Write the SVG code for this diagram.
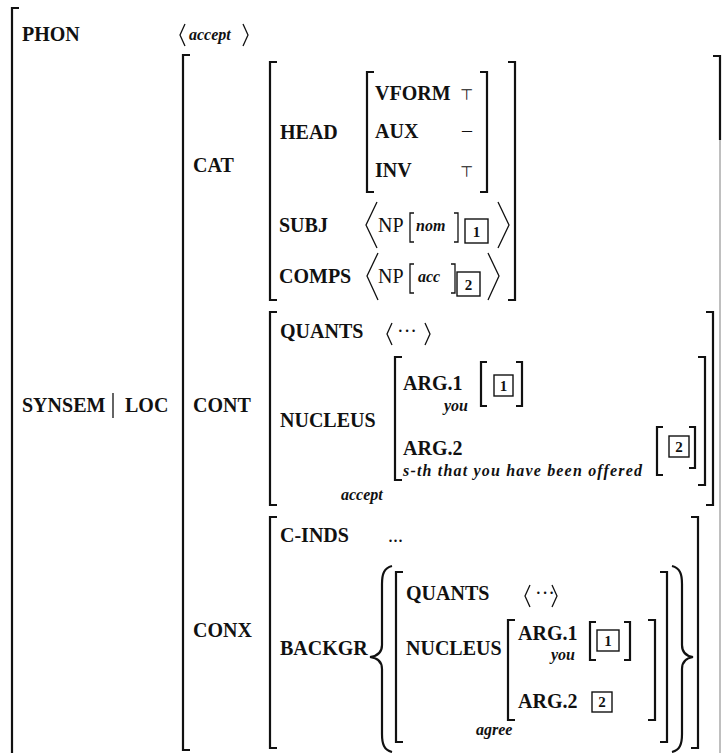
<svg xmlns="http://www.w3.org/2000/svg" width="723" height="753" viewBox="0 0 723 753">
<style>
.br{fill:none;stroke:#111;stroke-width:2.2}
.th{fill:none;stroke:#111;stroke-width:1.3}
.tag{fill:none;stroke:#111;stroke-width:1.4}
.f{font-family:"Liberation Serif",serif;font-weight:bold;font-size:20px;fill:#111}
.n{font-family:"Liberation Serif",serif;font-size:20px;fill:#111}
.i{font-family:"Liberation Serif",serif;font-style:italic;font-weight:bold;font-size:16px;fill:#111}
.s{font-family:"DejaVu Sans",sans-serif;font-size:15px;fill:#111}
.d{font-family:"Liberation Serif",serif;font-weight:bold;font-size:15px;fill:#111;text-anchor:middle}
</style>
<rect width="723" height="753" fill="#fff"/>
<g id="outer">
<path class="br" d="M19,8 H12 V753"/>
<text class="f" x="22" y="41">PHON</text>
<path class="th" d="M185,24 L180,35 L185,46"/>
<text class="i" x="189" y="40" font-size="18">accept</text>
<path class="th" d="M243,24 L248,35 L243,46"/>
<text class="f" x="22" y="412">SYNSEM</text>
<line class="th" x1="113" y1="393" x2="113" y2="418"/>
<text class="f" x="125" y="412">LOC</text>
</g>
<g id="loc">
<path class="br" d="M190,55 H183 V750 H190"/>
<path class="br" d="M713,56 H720 V140"/>
<line x1="720" y1="140" x2="720" y2="753" stroke="#aaa" stroke-width="1.5"/>
<text class="f" x="193" y="172">CAT</text>
<text class="f" x="193" y="412">CONT</text>
<text class="f" x="193" y="637">CONX</text>
</g>
<g id="cat">
<path class="br" d="M277,62 H270 V300 H277"/>
<path class="br" d="M508,62 H515 V300 H508"/>
<text class="f" x="280" y="139">HEAD</text>
<path class="br" d="M374,72 H367 V192 H374"/>
<path class="br" d="M480,72 H487 V192 H480"/>
<text class="f" x="375" y="100">VFORM</text>
<text class="s" x="460" y="100">⊤</text>
<text class="f" x="375" y="138">AUX</text>
<text class="n" x="462" y="137">–</text>
<text class="f" x="375" y="177">INV</text>
<text class="s" x="460" y="177">⊤</text>
<text class="f" x="279" y="232">SUBJ</text>
<path class="th" d="M377,202 L366,225 L377,248"/>
<text class="n" x="378" y="232">NP</text>
<path class="th" d="M414,213 H410 V242 H414"/>
<text class="i" x="416" y="231" font-size="18">nom</text>
<path class="th" d="M454,213 H458 V242 H454"/>
<rect class="tag" x="465" y="219" width="23" height="24"/>
<text class="d" x="476.5" y="237">1</text>
<path class="th" d="M498,202 L509,225 L498,248"/>
<text class="f" x="279" y="283">COMPS</text>
<path class="th" d="M378,253 L367,276 L378,300"/>
<text class="n" x="378" y="283">NP</text>
<path class="th" d="M414,264 H410 V293 H414"/>
<text class="i" x="418" y="282" font-size="18">acc</text>
<path class="th" d="M451,264 H455 V293 H451"/>
<rect class="tag" x="457" y="272" width="23" height="24"/>
<text class="d" x="468.5" y="290">2</text>
<path class="th" d="M488,253 L499,276 L488,300"/>
</g>
<g id="cont">
<path class="br" d="M277,312 H270 V505 H277"/>
<path class="br" d="M706,312 H713 V505 H706"/>
<text class="f" x="280" y="338">QUANTS</text>
<path class="th" d="M392,323 L387,334 L392,345"/>
<text class="n" x="397" y="338">···</text>
<path class="th" d="M425,323 L430,334 L425,345"/>
<text class="f" x="280" y="427">NUCLEUS</text>
<path class="br" d="M402,357 H395 V480 H402"/>
<path class="br" d="M698,357 H705 V485 H698"/>
<text class="f" x="403" y="390">ARG.1</text>
<text class="i" x="444" y="411">you</text>
<path class="br" d="M487,362 H481 V406 H487"/>
<rect class="tag" x="494" y="375" width="19" height="21"/>
<text class="d" x="503.5" y="391">1</text>
<path class="br" d="M516,362 H522 V406 H516"/>
<text class="f" x="403" y="455">ARG.2</text>
<text class="i" x="403" y="476" font-size="17" textLength="239">s-th that you have been offered</text>
<path class="br" d="M663,427 H657 V475 H663"/>
<rect class="tag" x="669" y="436" width="20" height="21"/>
<text class="d" x="679" y="452">2</text>
<path class="br" d="M689,427 H695 V468 H689"/>
<text class="i" x="341" y="500">accept</text>
</g>
<g id="conx">
<path class="br" d="M277,517 H270 V748 H277"/>
<path class="br" d="M691,517 H698 V748 H691"/>
<text class="f" x="280" y="542">C-INDS</text>
<text class="n" x="388" y="542">...</text>
<text class="f" x="280" y="655">BACKGR</text>
<path class="br" d="M392,566 C384,568 382,574 382,584 V645 C382,652 378,656 370,657 C378,658 382,662 382,669 V734 C382,744 384,750 392,752"/>
<path class="br" d="M672,566 C680,568 682,574 682,584 V645 C682,652 686,656 693,657 C686,658 682,662 682,669 V734 C682,744 680,750 672,752"/>
<path class="br" d="M403,572 H396 V742 H403"/>
<path class="br" d="M660,572 H667 V742 H660"/>
<text class="f" x="406" y="600">QUANTS</text>
<path class="th" d="M530,585 L525,596 L530,607"/>
<text class="n" x="535" y="600">···</text>
<path class="th" d="M552,585 L557,596 L552,607"/>
<text class="f" x="406" y="655">NUCLEUS</text>
<path class="br" d="M515,620 H508 V720 H515"/>
<path class="br" d="M648,620 H655 V720 H648"/>
<text class="f" x="518" y="640">ARG.1</text>
<text class="i" x="551" y="660">you</text>
<path class="br" d="M596,622 H590 V660 H596"/>
<rect class="tag" x="597" y="630" width="22" height="21"/>
<text class="d" x="608" y="646">1</text>
<path class="br" d="M624,622 H630 V660 H624"/>
<text class="f" x="518" y="708">ARG.2</text>
<rect class="tag" x="592" y="692" width="20" height="20"/>
<text class="d" x="602" y="707">2</text>
<text class="i" x="476" y="735">agree</text>
</g>
</svg>
